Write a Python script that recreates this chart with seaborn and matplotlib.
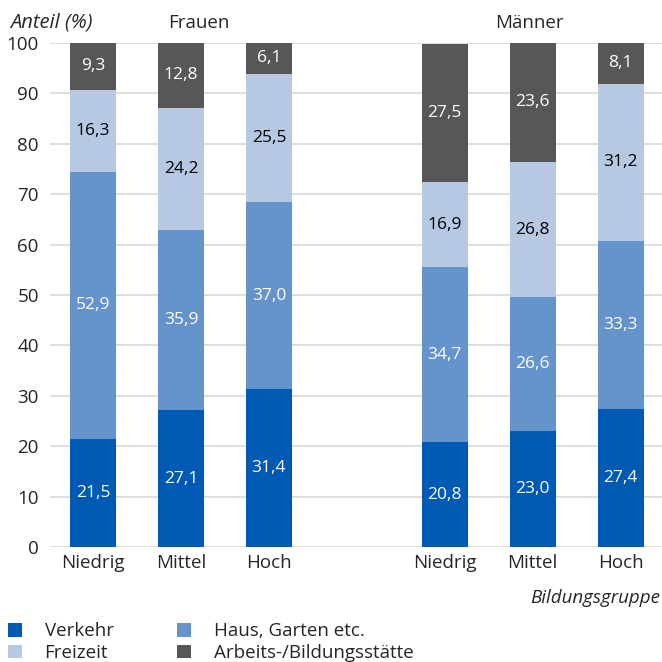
import numpy as np
import pandas as pd
import matplotlib
matplotlib.use("Agg")
import matplotlib.pyplot as plt
import seaborn as sns
from matplotlib.patches import Patch

groups = ["Frauen", "Frauen", "Frauen", "Männer", "Männer", "Männer"]
bildung = ["Niedrig", "Mittel", "Hoch", "Niedrig", "Mittel", "Hoch"]
verkehr = [21.5, 27.1, 31.4, 20.8, 23.0, 27.4]
haus = [52.9, 35.9, 37.0, 34.7, 26.6, 33.3]
freizeit = [16.3, 24.2, 25.5, 16.9, 26.8, 31.2]
arbeit = [9.3, 12.8, 6.1, 27.5, 23.6, 8.1]
categories = ["Verkehr", "Haus, Garten etc.", "Freizeit", "Arbeits-/Bildungsstätte"]
colors = ["#005ab4", "#6593cc", "#b7c8e3", "#575757"]
text_colors = ["white", "white", "black", "white"]

sns.set_theme(style="white")
plt.rcParams['font.family'] = ['Open Sans', 'DejaVu Sans']

pos = [0, 1, 2, 4, 5, 6]
series = [verkehr, haus, freizeit, arbeit]
cum = np.cumsum(np.array(series), axis=0)

fig = plt.figure(figsize=(6.62, 6.62), dpi=100)
ax = fig.add_axes([0.0755, 0.1737, 0.9245, 0.7613])

for i in range(3, -1, -1):
    df = pd.DataFrame({"pos": pos, "val": cum[i]})
    sns.barplot(data=df, x="pos", y="val", native_scale=True, color=colors[i],
                saturation=1, width=0.52, ax=ax, zorder=3, linewidth=0, errorbar=None)

for i in range(4):
    bottom = cum[i] - np.array(series[i])
    for j, p in enumerate(pos):
        v = series[i][j]
        ax.text(p, bottom[j] + v / 2, f"{v:.1f}".replace(".", ","), ha="center", va="center",
                color=text_colors[i], fontsize=12.5, zorder=4)

ax.set_xlim(-0.49, 6.47)
ax.set_ylim(0, 100)
ax.set_yticks(range(0, 101, 10))
ax.set_xticks(pos)
ax.set_xticklabels(bildung, fontsize=13.5)
ax.tick_params(axis="y", labelsize=13.5, length=0, pad=8)
ax.tick_params(axis="x", length=0, pad=5)
ax.yaxis.grid(True, color="#d9d9d9", linewidth=1.2, zorder=0)
ax.set_axisbelow(True)
for s in ax.spines.values():
    s.set_visible(False)
ax.set_xlabel("")
ax.set_ylabel("")

fig.text(0.015, 0.966, "Anteil (%)", fontsize=14.5, style="italic", ha="left", va="center")
fig.text(0.30, 0.966, "Frauen", fontsize=13.5, ha="center", va="center")
fig.text(0.80, 0.966, "Männer", fontsize=13.5, ha="center", va="center")
fig.text(0.997, 0.097, "Bildungsgruppe", fontsize=13.5, style="italic", ha="right", va="center")

order = [0, 2, 1, 3]
handles = [Patch(facecolor=colors[k], edgecolor="none") for k in order]
labels = [categories[k] for k in order]
fig.legend(handles, labels, ncol=2, loc="upper left", bbox_to_anchor=(0.012, 0.06),
           frameon=False, fontsize=13.5, handlelength=0.75, handleheight=0.75,
           handletextpad=1.2, columnspacing=3.4, labelspacing=0.2, borderaxespad=0,
           borderpad=0)

fig.savefig("out.png", dpi=100)
